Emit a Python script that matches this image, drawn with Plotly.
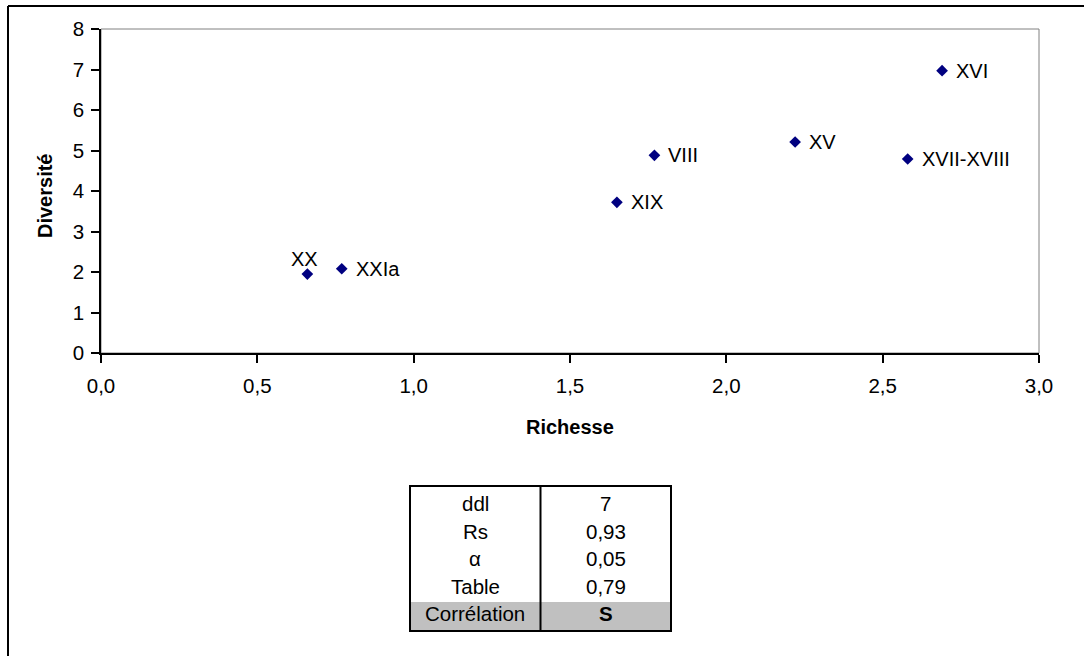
import plotly.graph_objects as go

# ---- data ----
periods = ["XX", "XXIa", "XIX", "VIII", "XV", "XVII-XVIII", "XVI"]
richesse = [0.66, 0.77, 1.65, 1.77, 2.22, 2.58, 2.69]
diversite = [1.95, 2.08, 3.72, 4.88, 5.21, 4.79, 6.97]

x_tick_vals = [0.0, 0.5, 1.0, 1.5, 2.0, 2.5, 3.0]
x_tick_text = ["0,0", "0,5", "1,0", "1,5", "2,0", "2,5", "3,0"]
y_tick_vals = [0, 1, 2, 3, 4, 5, 6, 7, 8]

table_labels = ["ddl", "Rs", "α", "Table", "Corrélation"]
table_values = ["7", "0,93", "0,05", "0,79", "<b>S</b>"]

# label placement (style, not data)
label_side = ["top", "right", "right", "right", "right", "right", "right"]

# ---- layout geometry (pixels) ----
W, H = 1084, 656
L, R, T, B = 101, 1039, 29, 353
FONT = "Liberation Sans, Arial, sans-serif"


def px(x):
    return (x - L) / (R - L)


def py(y):
    return (B - y) / (B - T)


fig = go.Figure()
fig.add_trace(go.Scatter(
    x=richesse, y=diversite, mode="markers",
    marker=dict(symbol="diamond", size=9, color="#000080", line=dict(width=0)),
    hoverinfo="x+y", showlegend=False,
))

annotations = []
for name, xv, yv, side in zip(periods, richesse, diversite, label_side):
    if side == "top":
        annotations.append(dict(x=xv, y=yv, xref="x", yref="y", text=name,
                                showarrow=False, xanchor="center", yanchor="middle",
                                xshift=-3, yshift=15,
                                font=dict(family=FONT, size=20, color="black")))
    else:
        annotations.append(dict(x=xv, y=yv, xref="x", yref="y", text=name,
                                showarrow=False, xanchor="left", yanchor="middle",
                                xshift=12, yshift=0,
                                font=dict(family=FONT, size=20, color="black")))

# axis titles
annotations.append(dict(x=px(570), y=py(427), xref="paper", yref="paper",
                        text="<b>Richesse</b>", showarrow=False,
                        xanchor="center", yanchor="middle",
                        font=dict(family=FONT, size=20, color="black")))
annotations.append(dict(x=px(45), y=py(196), xref="paper", yref="paper",
                        text="<b>Diversité</b>", showarrow=False, textangle=-90,
                        xanchor="center", yanchor="middle",
                        font=dict(family=FONT, size=20, color="black")))

# table
tx0, tx1, tdiv, ty0, ty1, gray_top = 410, 671, 540.5, 486, 631, 602
row_y0, row_step = 503.5, 27.5
for i, (lab, val) in enumerate(zip(table_labels, table_values)):
    yc = row_y0 + i * row_step
    annotations.append(dict(x=px((tx0 + tdiv) / 2), y=py(yc), xref="paper", yref="paper",
                            text=lab, showarrow=False, xanchor="center", yanchor="middle",
                            font=dict(family=FONT, size=20.5, color="black")))
    annotations.append(dict(x=px((tdiv + tx1) / 2), y=py(yc), xref="paper", yref="paper",
                            text=val, showarrow=False, xanchor="center", yanchor="middle",
                            font=dict(family=FONT, size=20.5, color="black")))

shapes = [
    # plot area frame (gray top/right)
    dict(type="rect", xref="paper", yref="paper", x0=0, x1=1, y0=0, y1=1,
         line=dict(color="#808080", width=1), layer="below"),
    # outer chart border (left & top visible)
    dict(type="line", xref="paper", yref="paper", x0=px(8), x1=px(1100), y0=py(6), y1=py(6),
         line=dict(color="black", width=2)),
    dict(type="line", xref="paper", yref="paper", x0=px(8), x1=px(8), y0=py(6), y1=py(670),
         line=dict(color="black", width=2)),
    # table gray row
    dict(type="rect", xref="paper", yref="paper", x0=px(tx0), x1=px(tx1),
         y0=py(ty1), y1=py(gray_top), fillcolor="#c0c0c0", line=dict(width=0), layer="below"),
    # table border
    dict(type="rect", xref="paper", yref="paper", x0=px(tx0), x1=px(tx1),
         y0=py(ty1), y1=py(ty0), line=dict(color="black", width=2)),
    dict(type="line", xref="paper", yref="paper", x0=px(tdiv), x1=px(tdiv),
         y0=py(ty1), y1=py(ty0), line=dict(color="black", width=2)),
]

fig.update_layout(
    width=W, height=H,
    margin=dict(l=L, r=W - R, t=T, b=H - B),
    paper_bgcolor="white", plot_bgcolor="white",
    font=dict(family=FONT, size=20, color="black"),
    annotations=annotations, shapes=shapes,
    xaxis=dict(range=[0, 3], tickvals=x_tick_vals, ticktext=x_tick_text,
               ticks="outside", ticklen=8, tickwidth=1.5, tickcolor="black",
               showline=True, linecolor="black", linewidth=1.5,
               showgrid=False, zeroline=False, fixedrange=True,
               tickfont=dict(family=FONT, size=20.5, color="black"),
               ticklabelstandoff=6),
    yaxis=dict(range=[0, 8], tickvals=y_tick_vals,
               ticks="outside", ticklen=8, tickwidth=1.5, tickcolor="black",
               showline=True, linecolor="black", linewidth=1.5,
               showgrid=False, zeroline=False, fixedrange=True,
               tickfont=dict(family=FONT, size=20.5, color="black"),
               ticklabelstandoff=3),
    showlegend=False,
)

fig.write_html(
    "out.html",
    config={"displayModeBar": False},
    post_script="document.body.style.margin='0';document.body.style.overflow='hidden';",
)
